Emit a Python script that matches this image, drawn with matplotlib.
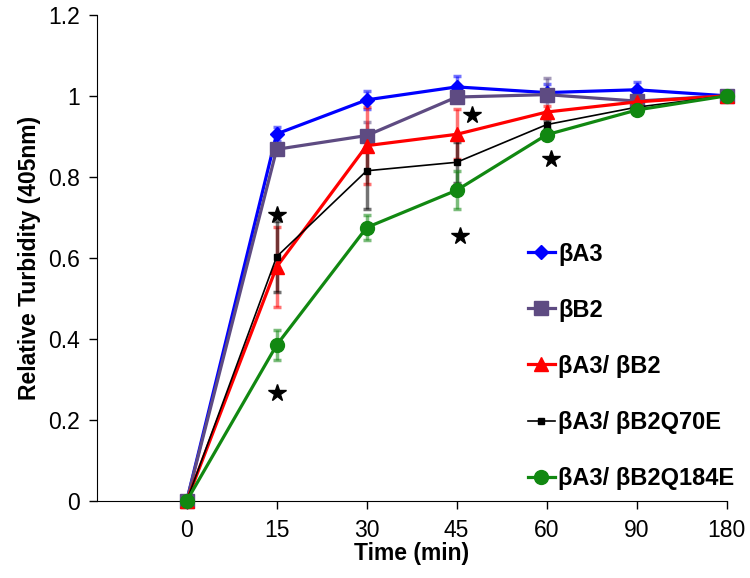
import matplotlib
matplotlib.use("Agg")
import matplotlib.pyplot as plt

plt.rcParams['font.family'] = ['Liberation Sans', 'DejaVu Sans']

time_labels = ["0", "15", "30", "45", "60", "90", "180"]

series_names = ["βA3", "βB2", "βA3/ βB2", "βA3/ βB2Q70E", "βA3/ βB2Q184E"]

bA3 = [0.0, 0.906, 0.990, 1.022, 1.008, 1.015, 1.0]
bA3_err = [0.0, 0.017, 0.022, 0.028, 0.02, 0.02, 0.0]

bB2 = [0.0, 0.868, 0.902, 0.997, 1.003, 0.987, 1.0]
bB2_err = [0.0, 0.012, 0.033, 0.01, 0.042, 0.01, 0.0]

bA3_bB2 = [0.0, 0.578, 0.877, 0.905, 0.960, 0.985, 1.0]
bA3_bB2_err = [0.0, 0.098, 0.095, 0.062, 0.015, 0.01, 0.0]

bA3_Q70E = [0.0, 0.603, 0.815, 0.836, 0.929, 0.972, 1.0]
bA3_Q70E_err = [0.0, 0.088, 0.095, 0.05, 0.012, 0.008, 0.0]

bA3_Q184E = [0.0, 0.385, 0.675, 0.767, 0.904, 0.965, 1.0]
bA3_Q184E_err = [0.0, 0.038, 0.032, 0.047, 0.01, 0.01, 0.0]

# significance stars (category position, value)
star_x = [2.0, 2.0, 4.17, 4.04, 5.05]
star_y = [0.706, 0.266, 0.953, 0.654, 0.843]

values = [bA3, bB2, bA3_bB2, bA3_Q70E, bA3_Q184E]
errors = [bA3_err, bB2_err, bA3_bB2_err, bA3_Q70E_err, bA3_Q184E_err]
colors = ["#0000FF", "#5E4B82", "#FF0000", "#000000", "#118811"]
markers = ["D", "s", "^", "s", "o"]
msizes = [7.5, 9.5, 9.5, 5, 10]
lwidths = [2.3, 2.3, 2.3, 1.2, 2.3]

fig = plt.figure(figsize=(7.5, 5.78), dpi=100)
ax = fig.add_axes([0.1289, 0.1332, 0.9689 - 0.1289, 0.9744 - 0.1332])

x = list(range(1, len(time_labels) + 1))

for vals, errs, c in zip(values, errors, colors):
    ax.errorbar(x, vals, yerr=errs, fmt='none', ecolor=c, alpha=0.55,
                elinewidth=2.5, capsize=3, capthick=2.5, zorder=2)

for vals, name, c, m, ms, lw in zip(values, series_names, colors, markers, msizes, lwidths):
    ax.plot(x, vals, color=c, marker=m, markersize=ms, linewidth=lw,
            markeredgecolor=c, label=name, zorder=3, clip_on=False)

ax.plot(star_x, star_y, linestyle='none', marker='*', markersize=13,
        color='black', zorder=4)

tick_font = ['Liberation Sans Narrow', 'Liberation Sans', 'DejaVu Sans']

ax.set_xlim(0, 7)
ax.set_ylim(0, 1.2)
ax.set_xticks(x)
ax.set_xticklabels(time_labels, family=tick_font, fontsize=16.5)
ax.set_yticks([0, 0.2, 0.4, 0.6, 0.8, 1.0, 1.2])
ax.set_yticklabels(["0", "0.2", "0.4", "0.6", "0.8", "1", "1.2"],
                   family=tick_font, fontsize=16.5)
ax.tick_params(axis='both', direction='out', length=6, width=1)
ax.tick_params(axis='x', pad=7)
ax.tick_params(axis='y', pad=6)
ax.spines['top'].set_visible(False)
ax.spines['right'].set_visible(False)

ax.set_xlabel("Time (min)", fontsize=16.5, fontweight='bold', labelpad=0)
ax.set_ylabel("Relative Turbidity (405nm)", fontsize=16.5, fontweight='bold', labelpad=5)

leg = fig.legend(loc='center left', bbox_to_anchor=(0.688, 0.3664),
                 bbox_transform=fig.transFigure, frameon=False,
                 prop={'weight': 'bold', 'size': 17}, borderpad=0,
                 labelspacing=1.4, handlelength=1.15, handletextpad=0.15)

fig.savefig("out.png", dpi=100)
